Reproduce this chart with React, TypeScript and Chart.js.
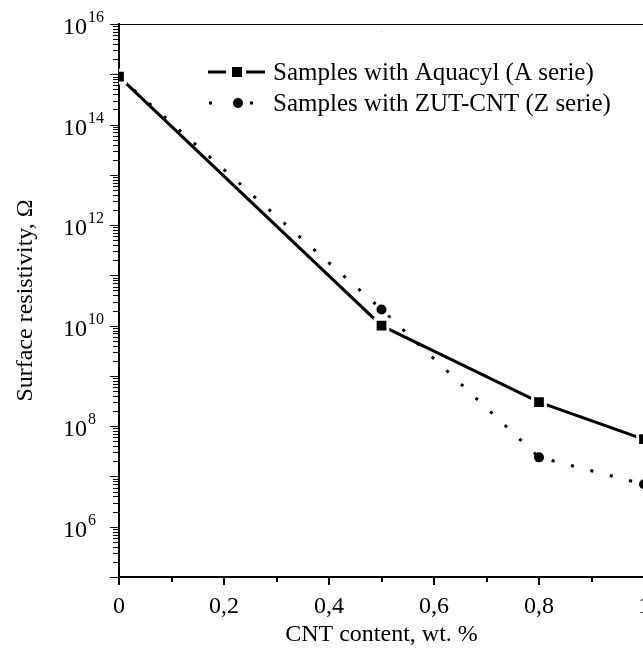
import { useEffect, useRef } from "react";
import { Chart, registerables } from "chart.js";

Chart.register(...registerables);

// ---- data ----
const cntContent = [0, 0.5, 0.8, 1];
const aquacylSeries = [9e14, 1e10, 3e8, 5.5e7];
const zutSeries = [9e14, 2.1e10, 2.4e7, 7e6];
const seriesLabels = ["Samples with Aquacyl (A serie)", "Samples with ZUT-CNT (Z serie)"];
const xTickValues = [0, 0.1, 0.2, 0.3, 0.4, 0.5, 0.6, 0.7, 0.8, 0.9, 1];
const xLabelValues = [0, 0.2, 0.4, 0.6, 0.8, 1];
const yLabelExponents = [6, 8, 10, 12, 14, 16];
const yMinExp = 5;
const yMaxExp = 16;
const xTitle = "CNT content, wt. %";
const yTitle = "Surface resistivity, Ω";

const FONT = "'Liberation Serif', 'Times New Roman', serif";

function buildLogTicks(): number[] {
  const out: number[] = [];
  for (let e = yMinExp; e < yMaxExp; e++) {
    for (let m = 1; m <= 9; m++) out.push(m * Math.pow(10, e));
  }
  out.push(Math.pow(10, yMaxExp));
  return out;
}
const yTickValues = buildLogTicks();

function fmtX(v: number): string {
  const r = Math.round(v * 10) / 10;
  if (r === 0) return "0";
  if (r === 1) return "1";
  return r.toFixed(1).replace(".", ",");
}

const decorPlugin = {
  id: "decor",
  afterDraw(chart: any) {
    const { ctx, chartArea } = chart;
    const { left, right, top, bottom } = chartArea;
    const xs = chart.scales.x;
    const ys = chart.scales.y;
    ctx.save();
    ctx.strokeStyle = "#000";
    ctx.fillStyle = "#000";

    // top & right frame
    ctx.lineWidth = 1;
    ctx.beginPath();
    ctx.moveTo(left, Math.round(top) + 0.5);
    ctx.lineTo(right, Math.round(top) + 0.5);
    ctx.moveTo(Math.round(right) + 0.5, top);
    ctx.lineTo(Math.round(right) + 0.5, bottom);
    ctx.stroke();

    // y tick marks
    ctx.lineWidth = 1;
    ctx.beginPath();
    for (const v of yTickValues) {
      const py = Math.round(ys.getPixelForValue(v)) + 0.5;
      const lg = Math.log10(v);
      const decade = Math.abs(lg - Math.round(lg)) < 1e-9;
      const len = decade ? 9 : 6;
      ctx.moveTo(left - len, py);
      ctx.lineTo(left, py);
    }
    ctx.stroke();

    // x tick marks
    ctx.lineWidth = 2;
    ctx.beginPath();
    for (const v of xTickValues) {
      const px = Math.round(xs.getPixelForValue(v));
      const major = xLabelValues.some((l) => Math.abs(l - v) < 1e-9);
      const len = major ? 8 : 5;
      ctx.moveTo(px, bottom);
      ctx.lineTo(px, bottom + len);
    }
    ctx.stroke();

    // y labels 10^n
    for (const e of yLabelExponents) {
      const py = ys.getPixelForValue(Math.pow(10, e));
      ctx.font = `24px ${FONT}`;
      ctx.textAlign = "right";
      ctx.textBaseline = "alphabetic";
      ctx.fillText("10", left - 32, py + 10);
      ctx.font = `16px ${FONT}`;
      ctx.textAlign = "left";
      ctx.fillText(String(e), left - 31, py - 2);
    }

    // legend
    const lx = left + 89;
    const tx = left + 154;
    const row1 = top + 48;
    const row2 = top + 79;
    ctx.lineWidth = 3;
    ctx.beginPath();
    ctx.moveTo(lx, row1);
    ctx.lineTo(lx + 18, row1);
    ctx.moveTo(lx + 38, row1);
    ctx.lineTo(lx + 57, row1);
    ctx.stroke();
    ctx.fillRect(lx + 24, row1 - 5, 10, 10);
    ctx.fillRect(lx + 1, row2 - 1.5, 3, 3);
    ctx.fillRect(lx + 42, row2 - 1.5, 3, 3);
    ctx.beginPath();
    ctx.arc(lx + 30, row2, 5, 0, Math.PI * 2);
    ctx.fill();
    ctx.font = `25px ${FONT}`;
    ctx.textAlign = "left";
    ctx.textBaseline = "alphabetic";
    ctx.fillText(seriesLabels[0], tx, row1 + 8);
    ctx.fillText(seriesLabels[1], tx, row2 + 8);

    ctx.restore();
  },
};

export default function App() {
  const ref = useRef<HTMLCanvasElement | null>(null);
  useEffect(() => {
    if (!ref.current) return;
    const chart = new Chart(ref.current, {
      type: "line",
      data: {
        datasets: [
          {
            label: seriesLabels[0],
            data: cntContent.map((x, i) => ({ x, y: aquacylSeries[i] })),
            borderColor: "#000",
            backgroundColor: "#000",
            borderWidth: 3,
            pointStyle: "rect",
            pointRadius: 9,
            pointBackgroundColor: "#000",
            pointBorderColor: "#fff",
            pointBorderWidth: 3,
            tension: 0,
          },
          {
            label: seriesLabels[1],
            data: cntContent.map((x, i) => ({ x, y: zutSeries[i] })),
            borderColor: "#000",
            backgroundColor: "#000",
            borderWidth: 3,
            borderDash: [3, 17],
            borderCapStyle: "butt",
            pointStyle: "circle",
            pointRadius: 5,
            pointBackgroundColor: "#000",
            pointBorderWidth: 0,
            tension: 0,
          },
        ],
      },
      options: {
        animation: false,
        responsive: false,
        devicePixelRatio: 1,
        layout: { padding: { left: 0, top: 24, right: 10, bottom: 0 } },
        plugins: { legend: { display: false }, tooltip: { enabled: false } },
        scales: {
          x: {
            type: "linear",
            min: 0,
            max: 1,
            grid: { display: false },
            border: { display: true, width: 2, color: "#000" },
            afterBuildTicks: (s: any) => {
              s.ticks = xTickValues.map((v) => ({ value: v }));
            },
            afterFit: (s: any) => {
              s.height = 73;
            },
            ticks: {
              autoSkip: false,
              maxRotation: 0,
              padding: 7,
              color: "#000",
              font: { family: FONT, size: 24 },
              callback: (v: any) => {
                const n = Number(v);
                return xLabelValues.some((l) => Math.abs(l - n) < 1e-9) ? fmtX(n) : "";
              },
            },
            title: {
              display: true,
              text: xTitle,
              color: "#000",
              font: { family: FONT, size: 24 },
              padding: { top: 0, bottom: 1 },
            },
          },
          y: {
            type: "logarithmic",
            min: Math.pow(10, yMinExp),
            max: Math.pow(10, yMaxExp),
            grid: { display: false },
            border: { display: true, width: 2, color: "#000" },
            afterBuildTicks: (s: any) => {
              s.ticks = yTickValues.map((v) => ({ value: v }));
            },
            afterFit: (s: any) => {
              s.width = 119;
            },
            ticks: { display: false },
            title: {
              display: true,
              text: yTitle,
              color: "#000",
              font: { family: FONT, size: 24 },
              padding: { top: 11, bottom: 0 },
            },
          },
        },
      },
      plugins: [decorPlugin],
    } as any);
    return () => chart.destroy();
  }, []);

  return (
    <div
      style={{
        position: "fixed",
        left: 0,
        top: 0,
        width: 643,
        height: 650,
        overflow: "hidden",
        background: "#fff",
      }}
    >
      <canvas ref={ref} width={657} height={650} style={{ display: "block", width: 657, height: 650 }} />
    </div>
  );
}
